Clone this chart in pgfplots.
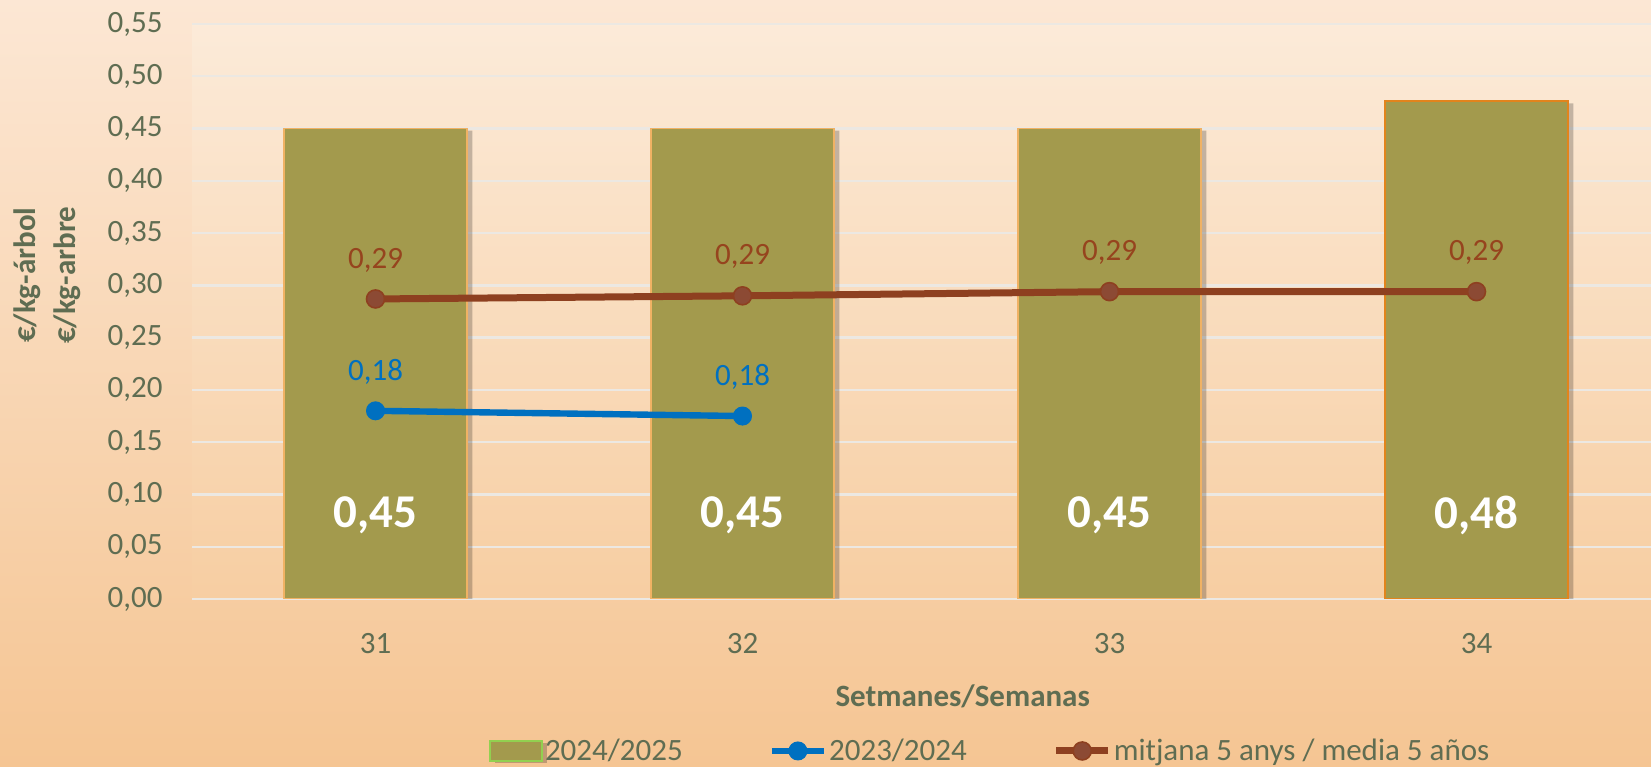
\documentclass[border=0pt]{standalone}
\usepackage{pgfplots}
\pgfplotsset{compat=1.18}
\usepackage{fontspec}
\setmainfont{Carlito}
\definecolor{txt}{RGB}{95,109,82}
\definecolor{barfill}{RGB}{163,154,77}
\definecolor{baredge}{RGB}{240,178,100}
\definecolor{baredgedark}{RGB}{226,132,28}
\definecolor{legedge}{RGB}{146,208,80}
\definecolor{brownline}{RGB}{142,64,32}
\definecolor{brownmark}{RGB}{140,74,52}
\definecolor{brownlab}{RGB}{150,68,30}
\definecolor{blueline}{RGB}{0,112,192}
\definecolor{gridc}{RGB}{236,232,226}
\definecolor{bgtop}{RGB}{252,231,212}
\definecolor{bgbot}{RGB}{245,197,147}
\definecolor{pbA}{RGB}{248,218,182}
\definecolor{pbB}{RGB}{246,200,151}
\definecolor{pbC}{RGB}{254,249,244}
\pgfdeclareverticalshading{plotbg}{100bp}{color(0bp)=(pbA); color(15bp)=(pbB); color(100bp)=(pbC)}
\pgfplotsset{
  lineleg/.style={legend image code/.code={\draw[##1, mark repeat=2, mark phase=2] plot coordinates {(0bp,0bp) (13bp,0bp) (26bp,0bp)};}},
  barleg/.style={legend image code/.code={\draw[fill=barfill, draw=legedge, line width=1.2bp] (0bp,-5bp) rectangle (26bp,5bp);}}
}
\pgfplotstableread{
x y label
0 0.45 {0,45}
1 0.45 {0,45}
2 0.45 {0,45}
3 0.476 {0,48}
}\barsdata
\pgfplotstableread{
x y
3 0.476
}\lastbar
\pgfplotstableread{
x y label
0 0.180 {0,18}
1 0.175 {0,18}
}\bluedata
\pgfplotstableread{
x y label
0 0.287 {0,29}
1 0.290 {0,29}
2 0.294 {0,29}
3 0.294 {0,29}
}\browndata
\begin{document}
\begin{tikzpicture}
\path[use as bounding box, clip] (0,0) rectangle (825.5bp,383.5bp);
\shade[top color=bgtop, bottom color=bgbot] (0,0) rectangle (825.5bp,383.5bp);
\begin{axis}[
  at={(96bp,84bp)}, anchor=south west,
  scale only axis, width=734bp, height=287.5bp,
  xmin=-0.5, xmax=3.5, ymin=0, ymax=0.55,
  axis background/.style={shade, shading=plotbg},
  axis line style={draw=none},
  major tick length=0pt,
  xtick={0,1,2,3}, xticklabels={31,32,33,34},
  ytick={0,0.05,0.1,0.15,0.2,0.25,0.3,0.35,0.4,0.45,0.5,0.55},
  yticklabel style={/pgf/number format/fixed, /pgf/number format/fixed zerofill, /pgf/number format/precision=2, /pgf/number format/use comma, /pgf/number format/assume math mode=true},
  ymajorgrids, grid style={gridc, line width=1.2bp},
  tick label style={font=\fontsize{15.5bp}{18bp}\selectfont, text=txt, inner sep=0pt},
  yticklabel style={anchor=east, xshift=-14.5bp},
  xticklabel style={anchor=north, yshift=-17bp},
  xlabel={\bfseries Setmanes/Semanas},
  xlabel style={at={(rel axis cs:0.525,-0.170)}, anchor=center, font=\fontsize{15.5bp}{18bp}\selectfont, text=txt},
  ylabel={\bfseries €/kg-árbol\\\bfseries €/kg-arbre},
  ylabel style={at={(rel axis cs:-0.0984,0.563)}, anchor=center, align=center, font=\fontsize{15.5bp}{20bp}\selectfont, text=txt},
  legend columns=3,
  legend style={at={(rel axis cs:0.5436,-0.2643)}, anchor=center, draw=none, fill=none,
    font=\fontsize{15.5bp}{18bp}\selectfont, text=txt,
    nodes={inner sep=1bp},
    /tikz/every even column/.append style={column sep=42bp}},
  legend cell align=left,
]
\addplot[ybar, bar width=0.5, bar shift=0pt, fill=barfill, draw=baredge, line width=0.8bp,
  preaction={fill=black, fill opacity=0.22, draw=none, transform canvas={xshift=2.5bp, yshift=-1bp}},
  point meta=explicit symbolic,
  visualization depends on={rawy \as \rawyval},
  nodes near coords,
  nodes near coords style={anchor=center, text=white, font=\fontsize{23.5bp}{28bp}\selectfont\bfseries, yshift={(0.08-\rawyval)*522.727bp}},
  barleg
] table[x=x, y=y, meta=label] {\barsdata};
\addlegendentry{2024/2025}
\addplot[ybar, bar width=0.5, bar shift=0pt, fill=none, draw=baredgedark, line width=1bp, forget plot] table[x=x, y=y] {\lastbar};
\addplot[blueline, line width=3.2bp, mark=*, mark size=4.5bp, mark options={fill=blueline, draw=blueline, line width=0.5bp},
  point meta=explicit symbolic,
  nodes near coords,
  nodes near coords style={anchor=center, text=blueline, font=\fontsize{15.5bp}{18bp}\selectfont, yshift=19.5bp},
  lineleg
] table[x=x, y=y, meta=label] {\bluedata};
\addlegendentry{2023/2024}
\addplot[brownline, line width=3.5bp, mark=*, mark size=4.5bp, mark options={fill=brownmark, draw=brownline, line width=0.8bp},
  point meta=explicit symbolic,
  nodes near coords,
  nodes near coords style={anchor=center, text=brownlab, font=\fontsize{15.5bp}{18bp}\selectfont, yshift=19.5bp},
  lineleg
] table[x=x, y=y, meta=label] {\browndata};
\addlegendentry{mitjana 5 anys / media 5 años}
\end{axis}
\end{tikzpicture}
\end{document}
